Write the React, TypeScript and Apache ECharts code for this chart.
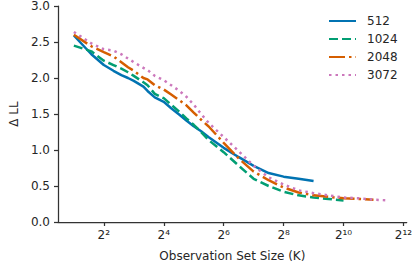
import React, { useEffect, useRef } from "react";
import * as echarts from "echarts";

const seriesNames = ["512", "1024", "2048", "3072"];
const colors = ["#0173b2", "#029e73", "#d55e00", "#cc78bc"];

// Observation set size K
const kAll = [2, 3, 4, 5, 6, 7, 8, 10, 11, 13, 16, 19, 23, 27, 32, 38, 45, 64, 91, 128, 181, 256, 362, 512, 724, 1024, 1448, 2048, 2896, 3072];

const ll512 = [2.59, 2.33, 2.18, 2.10, 2.04, 2.0, 1.96, 1.88, 1.82, 1.73, 1.67, 1.58, 1.49, 1.41, 1.33, 1.26, 1.18, 1.03, 0.90, 0.78, 0.68, 0.63, 0.60, 0.57];
const ll1024 = [2.45, 2.37, 2.24, 2.18, 2.13, 2.08, 2.03, 1.94, 1.90, 1.78, 1.72, 1.63, 1.53, 1.44, 1.35, 1.25, 1.14, 0.97, 0.78, 0.60, 0.50, 0.42, 0.37, 0.34, 0.32, 0.30];
const ll2048 = [2.60, 2.44, 2.36, 2.30, 2.22, 2.15, 2.10, 2.0, 1.98, 1.90, 1.84, 1.77, 1.69, 1.62, 1.52, 1.42, 1.33, 1.10, 0.88, 0.70, 0.58, 0.48, 0.41, 0.37, 0.35, 0.33, 0.32, 0.31];
const ll3072 = [2.64, 2.48, 2.40, 2.38, 2.33, 2.27, 2.22, 2.14, 2.11, 2.03, 1.97, 1.90, 1.82, 1.74, 1.63, 1.50, 1.38, 1.18, 0.98, 0.78, 0.62, 0.52, 0.44, 0.40, 0.37, 0.34, 0.33, 0.31, 0.30];

const xTickPowers = [2, 4, 6, 8, 10, 12];
const yTicks = [0, 0.5, 1, 1.5, 2, 2.5, 3];

const supMap: Record<string, string> = { "0": "⁰", "1": "¹", "2": "²", "3": "³", "4": "⁴", "5": "⁵", "6": "⁶", "7": "⁷", "8": "⁸", "9": "⁹" };
const sup = (n: number) => String(n).split("").map((c) => supMap[c]).join("");

const dashes: any[] = ["solid", [9, 4], [16, 4, 2.5, 4], [2.5, 4]];

export default function App() {
  const ref = useRef<HTMLDivElement>(null);
  useEffect(() => {
    document.body.style.margin = "0";
    if (!ref.current) return;
    const chart = echarts.init(ref.current, null, { renderer: "svg" });
    const all = [ll512, ll1024, ll2048, ll3072];
    const textColor = "#262626";
    const font = "DejaVu Sans";
    chart.setOption({
      animation: false,
      textStyle: { fontFamily: font },
      grid: { left: 50, right: 6, top: 5, bottom: 43.5, containLabel: false },
      legend: {
        orient: "vertical",
        left: 328,
        top: 15,
        padding: 0,
        itemWidth: 27,
        itemHeight: 12,
        itemGap: 6,
        data: seriesNames,
        itemStyle: { opacity: 0 },
        textStyle: { fontFamily: font, fontSize: 12, color: textColor, padding: [0, 0, 0, 6] },
      },
      xAxis: {
        type: "value",
        min: 0.47,
        max: 12.11,
        name: "Observation Set Size (K)",
        nameLocation: "middle",
        nameGap: 28,
        nameTextStyle: { fontFamily: font, fontSize: 12, color: textColor },
        splitLine: { show: false },
        axisLine: { lineStyle: { color: "#333333", width: 1.25 } },
        axisTick: { length: 4, customValues: xTickPowers, lineStyle: { color: "#333333", width: 1.25 } },
        axisLabel: {
          customValues: xTickPowers,
          margin: 7,
          fontFamily: font,
          fontSize: 12,
          color: textColor,
          formatter: (v: number) => "2" + sup(Math.round(v)),
        },
      },
      yAxis: {
        type: "value",
        min: 0,
        max: 3,
        interval: 0.5,
        name: "Δ LL",
        nameLocation: "middle",
        nameGap: 31,
        nameTextStyle: { fontFamily: font, fontSize: 12, color: textColor },
        splitLine: { show: false },
        axisLine: { show: true, lineStyle: { color: "#333333", width: 1.25 } },
        axisTick: { show: true, length: 4, lineStyle: { color: "#333333", width: 1.25 } },
        axisLabel: {
          margin: 8,
          fontFamily: font,
          fontSize: 12,
          color: textColor,
          formatter: (v: number) => (yTicks.includes(v) ? v.toFixed(1) : ""),
        },
      },
      series: seriesNames.map((name, i) => ({
        name,
        type: "line",
        showSymbol: false,
        symbol: "none",
        data: all[i].map((v, j) => [Math.log2(kAll[j]), v]),
        lineStyle: { color: colors[i], width: 2.5, type: dashes[i] },
        itemStyle: { color: colors[i] },
        z: 2 + i,
      })),
    });
    return () => chart.dispose();
  }, []);
  return <div ref={ref} style={{ width: 415, height: 267 }} />;
}
